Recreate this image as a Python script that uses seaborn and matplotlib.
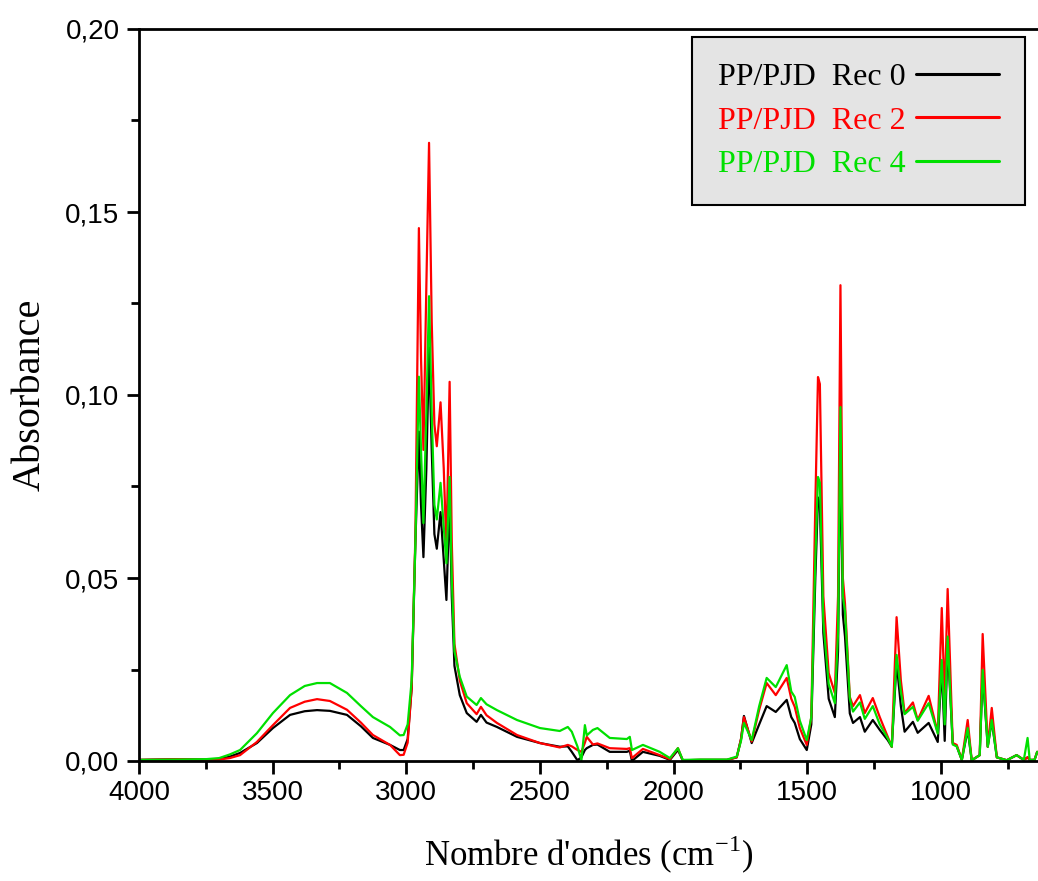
import numpy as np
import pandas as pd
import matplotlib
matplotlib.use("Agg")
import matplotlib.pyplot as plt
import seaborn as sns
from matplotlib.ticker import MultipleLocator, FuncFormatter
from matplotlib.lines import Line2D

# ---- data (wavenumber cm-1, absorbance) ----
wavenumber = [4000, 3850, 3750, 3700, 3660, 3622, 3559, 3499, 3435, 3380, 3334, 3286,
              3222, 3170, 3125, 3061, 3024, 3010, 2995, 2980, 2966, 2953, 2945, 2936,
              2925, 2915, 2905, 2895, 2886, 2872, 2860, 2850, 2838, 2830, 2820, 2800,
              2774, 2737, 2721, 2700, 2661, 2586, 2500, 2426, 2396, 2381, 2360, 2345,
              2332, 2325, 2302, 2285, 2239, 2175, 2164, 2156, 2115, 2052, 2014, 1984,
              1966, 1900, 1800, 1764, 1748, 1737, 1708, 1680, 1652, 1618, 1577, 1560,
              1547, 1528, 1502, 1485, 1470, 1460, 1453, 1440, 1420, 1397, 1385, 1376,
              1367, 1359, 1341, 1329, 1303, 1285, 1255, 1229, 1199, 1184, 1166, 1150,
              1136, 1105, 1087, 1046, 1012, 997, 986, 975, 956, 941, 922, 900, 885, 855,
              844, 825, 810, 791, 754, 717, 690, 676, 668, 650, 640]

rec0 = [0.0003, 0.0005, 0.0004, 0.0005, 0.0012, 0.0022, 0.0049, 0.0090, 0.0126, 0.0136,
        0.0139, 0.0137, 0.0126, 0.0095, 0.0063, 0.0044, 0.0030, 0.0030, 0.0060, 0.0200,
        0.0600, 0.0900, 0.0700, 0.0557, 0.0800, 0.1130, 0.0850, 0.0620, 0.0580, 0.0680,
        0.0550, 0.0440, 0.0720, 0.0450, 0.0260, 0.0180, 0.0131, 0.0107, 0.0126, 0.0105,
        0.0093, 0.0066, 0.0049, 0.0039, 0.0040, 0.0025, 0.0002, 0.0010, 0.0030, 0.0035,
        0.0044, 0.0045, 0.0025, 0.0025, 0.0028, 0.0000, 0.0025, 0.0014, 0.0003, 0.0030,
        0.0002, 0.0003, 0.0003, 0.0010, 0.0060, 0.0123, 0.0049, 0.0100, 0.0150, 0.0134,
        0.0167, 0.0120, 0.0104, 0.0060, 0.0030, 0.0100, 0.0500, 0.0720, 0.0700, 0.0350,
        0.0170, 0.0120, 0.0300, 0.0880, 0.0400, 0.0340, 0.0130, 0.0104, 0.0120, 0.0080,
        0.0112, 0.0085, 0.0057, 0.0039, 0.0270, 0.0150, 0.0080, 0.0107, 0.0077, 0.0104,
        0.0052, 0.0260, 0.0055, 0.0320, 0.0049, 0.0040, 0.0003, 0.0085, 0.0002, 0.0016,
        0.0240, 0.0039, 0.0110, 0.0010, 0.0002, 0.0016, 0.0003, 0.0010, 0.0003, 0.0003,
        0.0025]

rec2 = [0.0003, 0.0005, 0.0004, 0.0004, 0.0008, 0.0016, 0.0052, 0.0098, 0.0145, 0.0162,
        0.0169, 0.0164, 0.0140, 0.0105, 0.0071, 0.0044, 0.0016, 0.0017, 0.0050, 0.0200,
        0.0620, 0.1456, 0.1100, 0.0850, 0.1300, 0.1689, 0.1200, 0.0920, 0.0860, 0.0980,
        0.0800, 0.0580, 0.1036, 0.0600, 0.0320, 0.0220, 0.0158, 0.0128, 0.0148, 0.0125,
        0.0104, 0.0071, 0.0049, 0.0037, 0.0044, 0.0040, 0.0030, 0.0025, 0.0050, 0.0066,
        0.0045, 0.0048, 0.0035, 0.0033, 0.0035, 0.0008, 0.0033, 0.0016, 0.0005, 0.0035,
        0.0002, 0.0003, 0.0003, 0.0010, 0.0060, 0.0120, 0.0053, 0.0140, 0.0213, 0.0180,
        0.0227, 0.0170, 0.0148, 0.0090, 0.0044, 0.0120, 0.0700, 0.1049, 0.1030, 0.0450,
        0.0240, 0.0186, 0.0450, 0.1300, 0.0500, 0.0430, 0.0175, 0.0150, 0.0180, 0.0131,
        0.0172, 0.0120, 0.0066, 0.0039, 0.0393, 0.0220, 0.0131, 0.0160, 0.0112, 0.0178,
        0.0077, 0.0418, 0.0167, 0.0470, 0.0049, 0.0044, 0.0003, 0.0112, 0.0002, 0.0016,
        0.0347, 0.0039, 0.0145, 0.0010, 0.0002, 0.0016, 0.0003, 0.0010, 0.0003, 0.0003,
        0.0025]

rec4 = [0.0003, 0.0004, 0.0005, 0.0008, 0.0018, 0.0030, 0.0076, 0.0131, 0.0180, 0.0205,
        0.0213, 0.0213, 0.0186, 0.0150, 0.0120, 0.0093, 0.0070, 0.0071, 0.0100, 0.0220,
        0.0600, 0.1050, 0.0850, 0.0650, 0.0950, 0.1270, 0.0950, 0.0700, 0.0660, 0.0760,
        0.0640, 0.0540, 0.0776, 0.0500, 0.0300, 0.0230, 0.0176, 0.0153, 0.0172, 0.0155,
        0.0139, 0.0112, 0.0090, 0.0082, 0.0093, 0.0080, 0.0040, 0.0002, 0.0098, 0.0070,
        0.0085, 0.0090, 0.0063, 0.0060, 0.0066, 0.0030, 0.0044, 0.0025, 0.0008, 0.0035,
        0.0003, 0.0004, 0.0004, 0.0012, 0.0055, 0.0104, 0.0057, 0.0150, 0.0227, 0.0202,
        0.0262, 0.0190, 0.0175, 0.0110, 0.0057, 0.0120, 0.0550, 0.0776, 0.0760, 0.0380,
        0.0210, 0.0158, 0.0350, 0.0967, 0.0450, 0.0410, 0.0170, 0.0135, 0.0160, 0.0115,
        0.0150, 0.0100, 0.0062, 0.0039, 0.0290, 0.0190, 0.0128, 0.0148, 0.0110, 0.0158,
        0.0075, 0.0276, 0.0100, 0.0340, 0.0045, 0.0040, 0.0003, 0.0090, 0.0002, 0.0016,
        0.0249, 0.0039, 0.0112, 0.0010, 0.0002, 0.0016, 0.0003, 0.0063, 0.0003, 0.0003,
        0.0025]

labels = ["PP/PJD  Rec 0", "PP/PJD  Rec 2", "PP/PJD  Rec 4"]
colors = ["#000000", "#ff0000", "#00e000"]
yticks = [0.00, 0.05, 0.10, 0.15, 0.20]
xticks = [4000, 3500, 3000, 2500, 2000, 1500, 1000]

# ---- build long-form table ----
frames = []
for lab, vals in zip(labels, [rec0, rec2, rec4]):
    frames.append(pd.DataFrame({"wn": wavenumber, "abs": vals, "serie": lab}))
df = pd.concat(frames, ignore_index=True)

sns.set_style("ticks")
plt.rcParams["font.family"] = ["Liberation Sans", "DejaVu Sans"]
plt.rcParams["mathtext.fontset"] = "custom"
plt.rcParams["mathtext.rm"] = "Liberation Serif"

W, H = 1038, 881
fig = plt.figure(figsize=(W / 100, H / 100), dpi=100)
ax = fig.add_axes([139 / W, (H - 761) / H, (W - 139) / W, (761 - 29) / H])

sns.lineplot(data=df, x="wn", y="abs", hue="serie", palette=dict(zip(labels, colors)),
             hue_order=labels, sort=False, estimator=None, linewidth=1.6, ax=ax,
             legend=False)

ax.set_xlim(4000, 637)
ax.set_ylim(0, 0.20)
ax.set_xticks(xticks)
ax.set_yticks(yticks)
ax.xaxis.set_minor_locator(MultipleLocator(250))
ax.yaxis.set_minor_locator(MultipleLocator(0.025))
ax.yaxis.set_major_formatter(FuncFormatter(lambda v, p: f"{v:.2f}".replace(".", ",")))
ax.tick_params(axis="both", which="major", direction="out", length=9, width=2,
               labelsize=20, color="black", labelcolor="black", pad=5)
ax.tick_params(axis="both", which="minor", direction="out", length=6, width=2,
               color="black")
ax.tick_params(top=False, right=False)
for s in ["left", "bottom", "top"]:
    ax.spines[s].set_linewidth(2)
    ax.spines[s].set_color("black")
ax.spines["right"].set_visible(False)

serif = ["Liberation Serif", "DejaVu Serif"]
ax.set_xlabel(r"Nombre d'ondes (cm$^{\mathregular{-1}}$)", fontsize=25, family=serif,
              labelpad=20, color="black")
ax.set_ylabel("Absorbance", fontsize=29, family=serif, labelpad=12, color="black")

handles = [Line2D([], [], color=c, linewidth=2.2) for c in colors]
leg = fig.legend(handles, labels, loc="upper left", bbox_to_anchor=(692 / W, 1 - 37 / H),
                 markerfirst=False, frameon=True, fancybox=False, handlelength=2.6,
                 handletextpad=0.35, borderpad=0.8, labelspacing=0.45,
                 prop={"family": serif, "size": 23}, borderaxespad=0)
leg.get_frame().set_facecolor("#e4e4e4")
leg.get_frame().set_edgecolor("black")
leg.get_frame().set_linewidth(1.5)
leg.get_frame().set_alpha(1)
for t, c in zip(leg.get_texts(), colors):
    t.set_color(c)

fig.savefig("out.png", dpi=100)
